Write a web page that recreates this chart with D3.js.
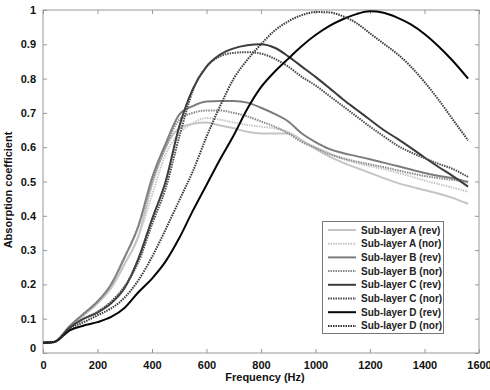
<!DOCTYPE html>
<html><head><meta charset="utf-8">
<script src="https://cdn.jsdelivr.net/npm/d3@7"></script>
<style>body{margin:0;background:#fff}svg{display:block}text{font-family:Arial,"Liberation Sans",sans-serif;font-weight:bold}</style>
</head><body><svg id="c" width="490" height="390"></svg>
<script>
const freq = [0,40,100,150,200,250,300,350,400,450,500,550,600,650,700,750,800,850,900,950,1000,1050,1100,1150,1200,1250,1300,1350,1400,1450,1500,1560];
const aRev = [0.03,0.032,0.078,0.11,0.145,0.19,0.26,0.34,0.49,0.6,0.655,0.668,0.672,0.663,0.655,0.645,0.64,0.64,0.64,0.62,0.595,0.573,0.555,0.54,0.525,0.51,0.496,0.485,0.475,0.465,0.453,0.435];
const aNor = [0.03,0.032,0.078,0.11,0.145,0.19,0.26,0.34,0.46,0.58,0.64,0.67,0.685,0.68,0.672,0.665,0.66,0.655,0.645,0.62,0.6,0.583,0.566,0.554,0.545,0.536,0.526,0.515,0.503,0.493,0.483,0.47];
const bRev = [0.03,0.032,0.08,0.115,0.15,0.2,0.28,0.37,0.51,0.61,0.695,0.72,0.733,0.735,0.735,0.73,0.715,0.697,0.675,0.64,0.615,0.595,0.583,0.574,0.565,0.555,0.545,0.535,0.525,0.517,0.51,0.498];
const bNor = [0.03,0.032,0.08,0.115,0.15,0.2,0.28,0.37,0.5,0.6,0.68,0.7,0.707,0.707,0.7,0.69,0.675,0.66,0.64,0.615,0.598,0.58,0.568,0.558,0.55,0.542,0.533,0.524,0.516,0.51,0.505,0.5];
const cRev = [0.03,0.032,0.075,0.1,0.118,0.145,0.19,0.275,0.39,0.5,0.66,0.77,0.835,0.87,0.888,0.897,0.9,0.89,0.865,0.835,0.805,0.773,0.74,0.71,0.68,0.65,0.625,0.598,0.57,0.543,0.518,0.485];
const cNor = [0.03,0.032,0.075,0.1,0.12,0.15,0.195,0.265,0.375,0.48,0.63,0.765,0.835,0.865,0.875,0.877,0.873,0.858,0.835,0.805,0.78,0.75,0.72,0.69,0.66,0.632,0.605,0.585,0.568,0.552,0.538,0.513];
const dRev = [0.03,0.032,0.067,0.08,0.09,0.105,0.132,0.177,0.217,0.267,0.335,0.415,0.49,0.565,0.635,0.712,0.775,0.82,0.858,0.895,0.927,0.953,0.973,0.988,0.996,0.992,0.978,0.958,0.93,0.895,0.855,0.8];
const dNor = [0.03,0.032,0.072,0.09,0.11,0.13,0.162,0.212,0.28,0.36,0.445,0.53,0.63,0.72,0.8,0.855,0.9,0.94,0.967,0.985,0.994,0.993,0.982,0.962,0.932,0.902,0.872,0.835,0.79,0.74,0.685,0.62];
const seriesNames = ["Sub-layer A (rev)","Sub-layer A (nor)","Sub-layer B (rev)","Sub-layer B (nor)","Sub-layer C (rev)","Sub-layer C (nor)","Sub-layer D (rev)","Sub-layer D (nor)"];
const seriesValues = [aRev,aNor,bRev,bNor,cRev,cNor,dRev,dNor];
const xTicks = [0,200,400,600,800,1000,1200,1400,1600];
const yTicks = [0,0.1,0.2,0.3,0.4,0.5,0.6,0.7,0.8,0.9,1];

const styles = [
 {c:"#c4c4c4",d:null},{c:"#c8c8c8",d:"1.5,1"},
 {c:"#7c7c7c",d:null},{c:"#8a8a8a",d:"1.5,1"},
 {c:"#3c3c3c",d:null},{c:"#4a4a4a",d:"1.5,1"},
 {c:"#050505",d:null},{c:"#3a3a3a",d:"1.5,1"}];

const svg = d3.select("#c");
const L=43,R=479,T=10,B=353;
const x = d3.scaleLinear().domain([0,1600]).range([L,R]);
const y = d3.scaleLinear().domain([0,1]).range([B,T]);

svg.append("rect").attr("x",L).attr("y",T).attr("width",R-L).attr("height",B-T)
  .attr("fill","none").attr("stroke","#999").attr("stroke-width",1);

const ax = svg.append("g").attr("transform",`translate(0,${B})`)
  .call(d3.axisBottom(x).tickValues(xTicks).tickSizeInner(-4).tickSizeOuter(0).tickPadding(8).tickFormat(d3.format("d")));
const axT = svg.append("g").attr("transform",`translate(0,${T})`)
  .call(d3.axisTop(x).tickValues(xTicks).tickSizeInner(-4).tickSizeOuter(0).tickFormat(""));
const ay = svg.append("g").attr("transform",`translate(${L},0)`)
  .call(d3.axisLeft(y).tickValues(yTicks).tickSizeInner(-4).tickSizeOuter(0).tickPadding(7).tickFormat(d=>d===0?"0":d===1?"1":d3.format(".1f")(d)));
const ayR = svg.append("g").attr("transform",`translate(${R},0)`)
  .call(d3.axisRight(y).tickValues(yTicks).tickSizeInner(-4).tickSizeOuter(0).tickFormat(""));
[ax,axT,ay,ayR].forEach(g=>{g.select(".domain").remove();g.selectAll("line").attr("stroke","#999");
  g.selectAll("text").attr("fill","#111").style("font-size","11px").style("font-weight","bold");});
ay.selectAll(".tick").filter(d=>d===0).select("text").attr("dy","-0.1em");

const line = d3.line().curve(d3.curveMonotoneX);
seriesValues.forEach((vals,i)=>{
  svg.append("path").attr("d",line(freq.map((f,j)=>[x(f),y(vals[j])])))
   .attr("fill","none").attr("stroke",styles[i].c).attr("stroke-width",2)
   .attr("stroke-dasharray",styles[i].d);
});

const lg = svg.append("g");
lg.append("rect").attr("x",322.5).attr("y",221.5).attr("width",121).attr("height",112)
  .attr("fill","#fff").attr("stroke","#777").attr("stroke-width",1);
seriesNames.forEach((n,i)=>{
  const yy = 230 + i*13.7;
  lg.append("line").attr("x1",328).attr("x2",356).attr("y1",yy).attr("y2",yy)
   .attr("stroke",styles[i].c).attr("stroke-width",2).attr("stroke-dasharray",styles[i].d);
  lg.append("text").attr("x",361).attr("y",yy).attr("dy","0.35em").text(n)
   .style("font-size","10px").attr("fill","#222");
});

svg.append("text").attr("x",265).attr("y",381).attr("text-anchor","middle")
  .style("font-size","11px").attr("fill","#111").text("Frequency (Hz)");
svg.append("text").attr("transform","translate(12,190) rotate(-90)").attr("text-anchor","middle")
  .style("font-size","11px").attr("fill","#111").text("Absorption coefficient");
</script></body></html>
